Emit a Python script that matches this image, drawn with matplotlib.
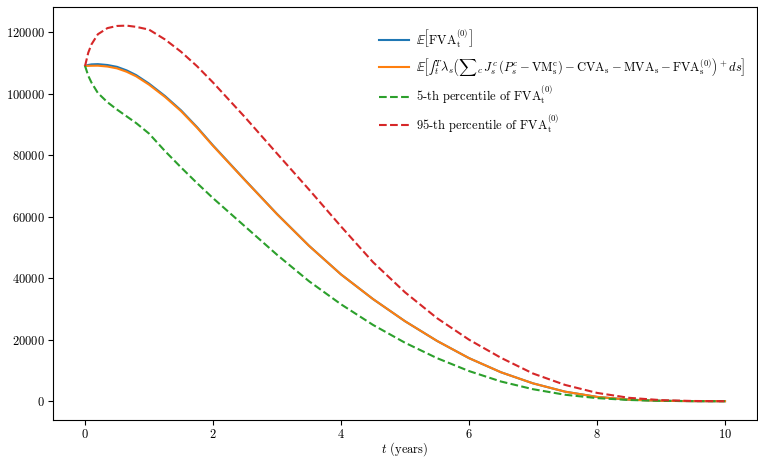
import matplotlib
matplotlib.use("Agg")
import matplotlib.pyplot as plt

plt.rcParams["font.family"] = "serif"
plt.rcParams["font.serif"] = ["cmr10", "DejaVu Serif"]
plt.rcParams["mathtext.fontset"] = "cm"
plt.rcParams["axes.formatter.use_mathtext"] = True
plt.rcParams["axes.unicode_minus"] = False

# time grid (years)
t = [0.0, 0.05, 0.1, 0.2, 0.35, 0.5, 0.65, 0.8, 1.0, 1.25, 1.5, 1.75, 2.0,
     2.5, 3.0, 3.5, 4.0, 4.5, 5.0, 5.5, 6.0, 6.5, 7.0, 7.5, 8.0, 8.5, 9.0,
     9.5, 10.0]

# E[FVA_t^(0)]
fva_mean = [109000, 109320, 109500, 109580, 109300, 108700, 107550, 106000,
            103250, 99200, 94550, 89100, 83150, 71900, 60850, 50530, 41220,
            33200, 26000, 19600, 14000, 9400, 5800, 3100, 1400, 500, 130,
            20, 0]

# E[ integral of the positive part ]
fva_integral = [109000, 109020, 109050, 109080, 108800, 108200, 107100,
                105600, 102900, 98900, 94300, 88900, 83000, 71800, 60800,
                50500, 41200, 33200, 26000, 19600, 14000, 9400, 5800, 3100,
                1400, 500, 130, 20, 0]

# 5-th percentile
fva_p5 = [109000, 105800, 103600, 100200, 97200, 94800, 92600, 90400, 87000,
          81300, 76000, 70900, 66000, 56800, 47600, 39000, 31500, 24800,
          19000, 14000, 9800, 6400, 3900, 2100, 1000, 400, 120, 25, 0]

# 95-th percentile
fva_p95 = [109000, 113300, 116000, 119300, 121300, 122000, 122100, 121700,
           120800, 117600, 113600, 108900, 103600, 92300, 80500, 68800,
           56800, 45200, 35400, 27000, 20000, 14100, 9000, 5300, 2700, 1100,
           350, 70, 0]

labels = [
    r"$\mathbb{E}\left[\mathrm{FVA}_\mathrm{t}^{(0)}\right]$",
    r"$\mathbb{E}\left[{∫}_t^T \lambda_s \left({\sum}_c\, J_s^c\,(P_s^c - \mathrm{VM}_\mathrm{s}^\mathrm{c})"
    r" - \mathrm{CVA}_\mathrm{s} - \mathrm{MVA}_\mathrm{s} - \mathrm{FVA}_\mathrm{s}^{(0)}\right)^+ ds\right]$",
    r"5-th percentile of $\mathrm{FVA}_\mathrm{t}^{(0)}$",
    r"95-th percentile of $\mathrm{FVA}_\mathrm{t}^{(0)}$",
]

fig = plt.figure(figsize=(7.58, 4.57), dpi=100)
ax = fig.add_axes([0.07, 0.081, 0.9287, 0.904])

ax.plot(t, fva_mean, color="tab:blue", lw=1.5, label=labels[0])
ax.plot(t, fva_integral, color="tab:orange", lw=1.5, label=labels[1])
ax.plot(t, fva_p5, color="tab:green", lw=1.5, ls="--", label=labels[2])
ax.plot(t, fva_p95, color="tab:red", lw=1.5, ls="--", label=labels[3])

ax.set_xlabel(r"$t$ (years)", fontsize=9, labelpad=-1)
ax.set_xticks([0, 2, 4, 6, 8, 10])
ax.set_yticks([0, 20000, 40000, 60000, 80000, 100000, 120000])
ax.tick_params(labelsize=9, pad=2.5)
ax.ticklabel_format(axis="y", style="plain")

ax.legend(loc="upper right", bbox_to_anchor=(1.0, 0.978), frameon=False,
          fontsize=9, handlelength=2.4, handletextpad=0.6, labelspacing=0.5)

fig.savefig("out.png", dpi=100)
